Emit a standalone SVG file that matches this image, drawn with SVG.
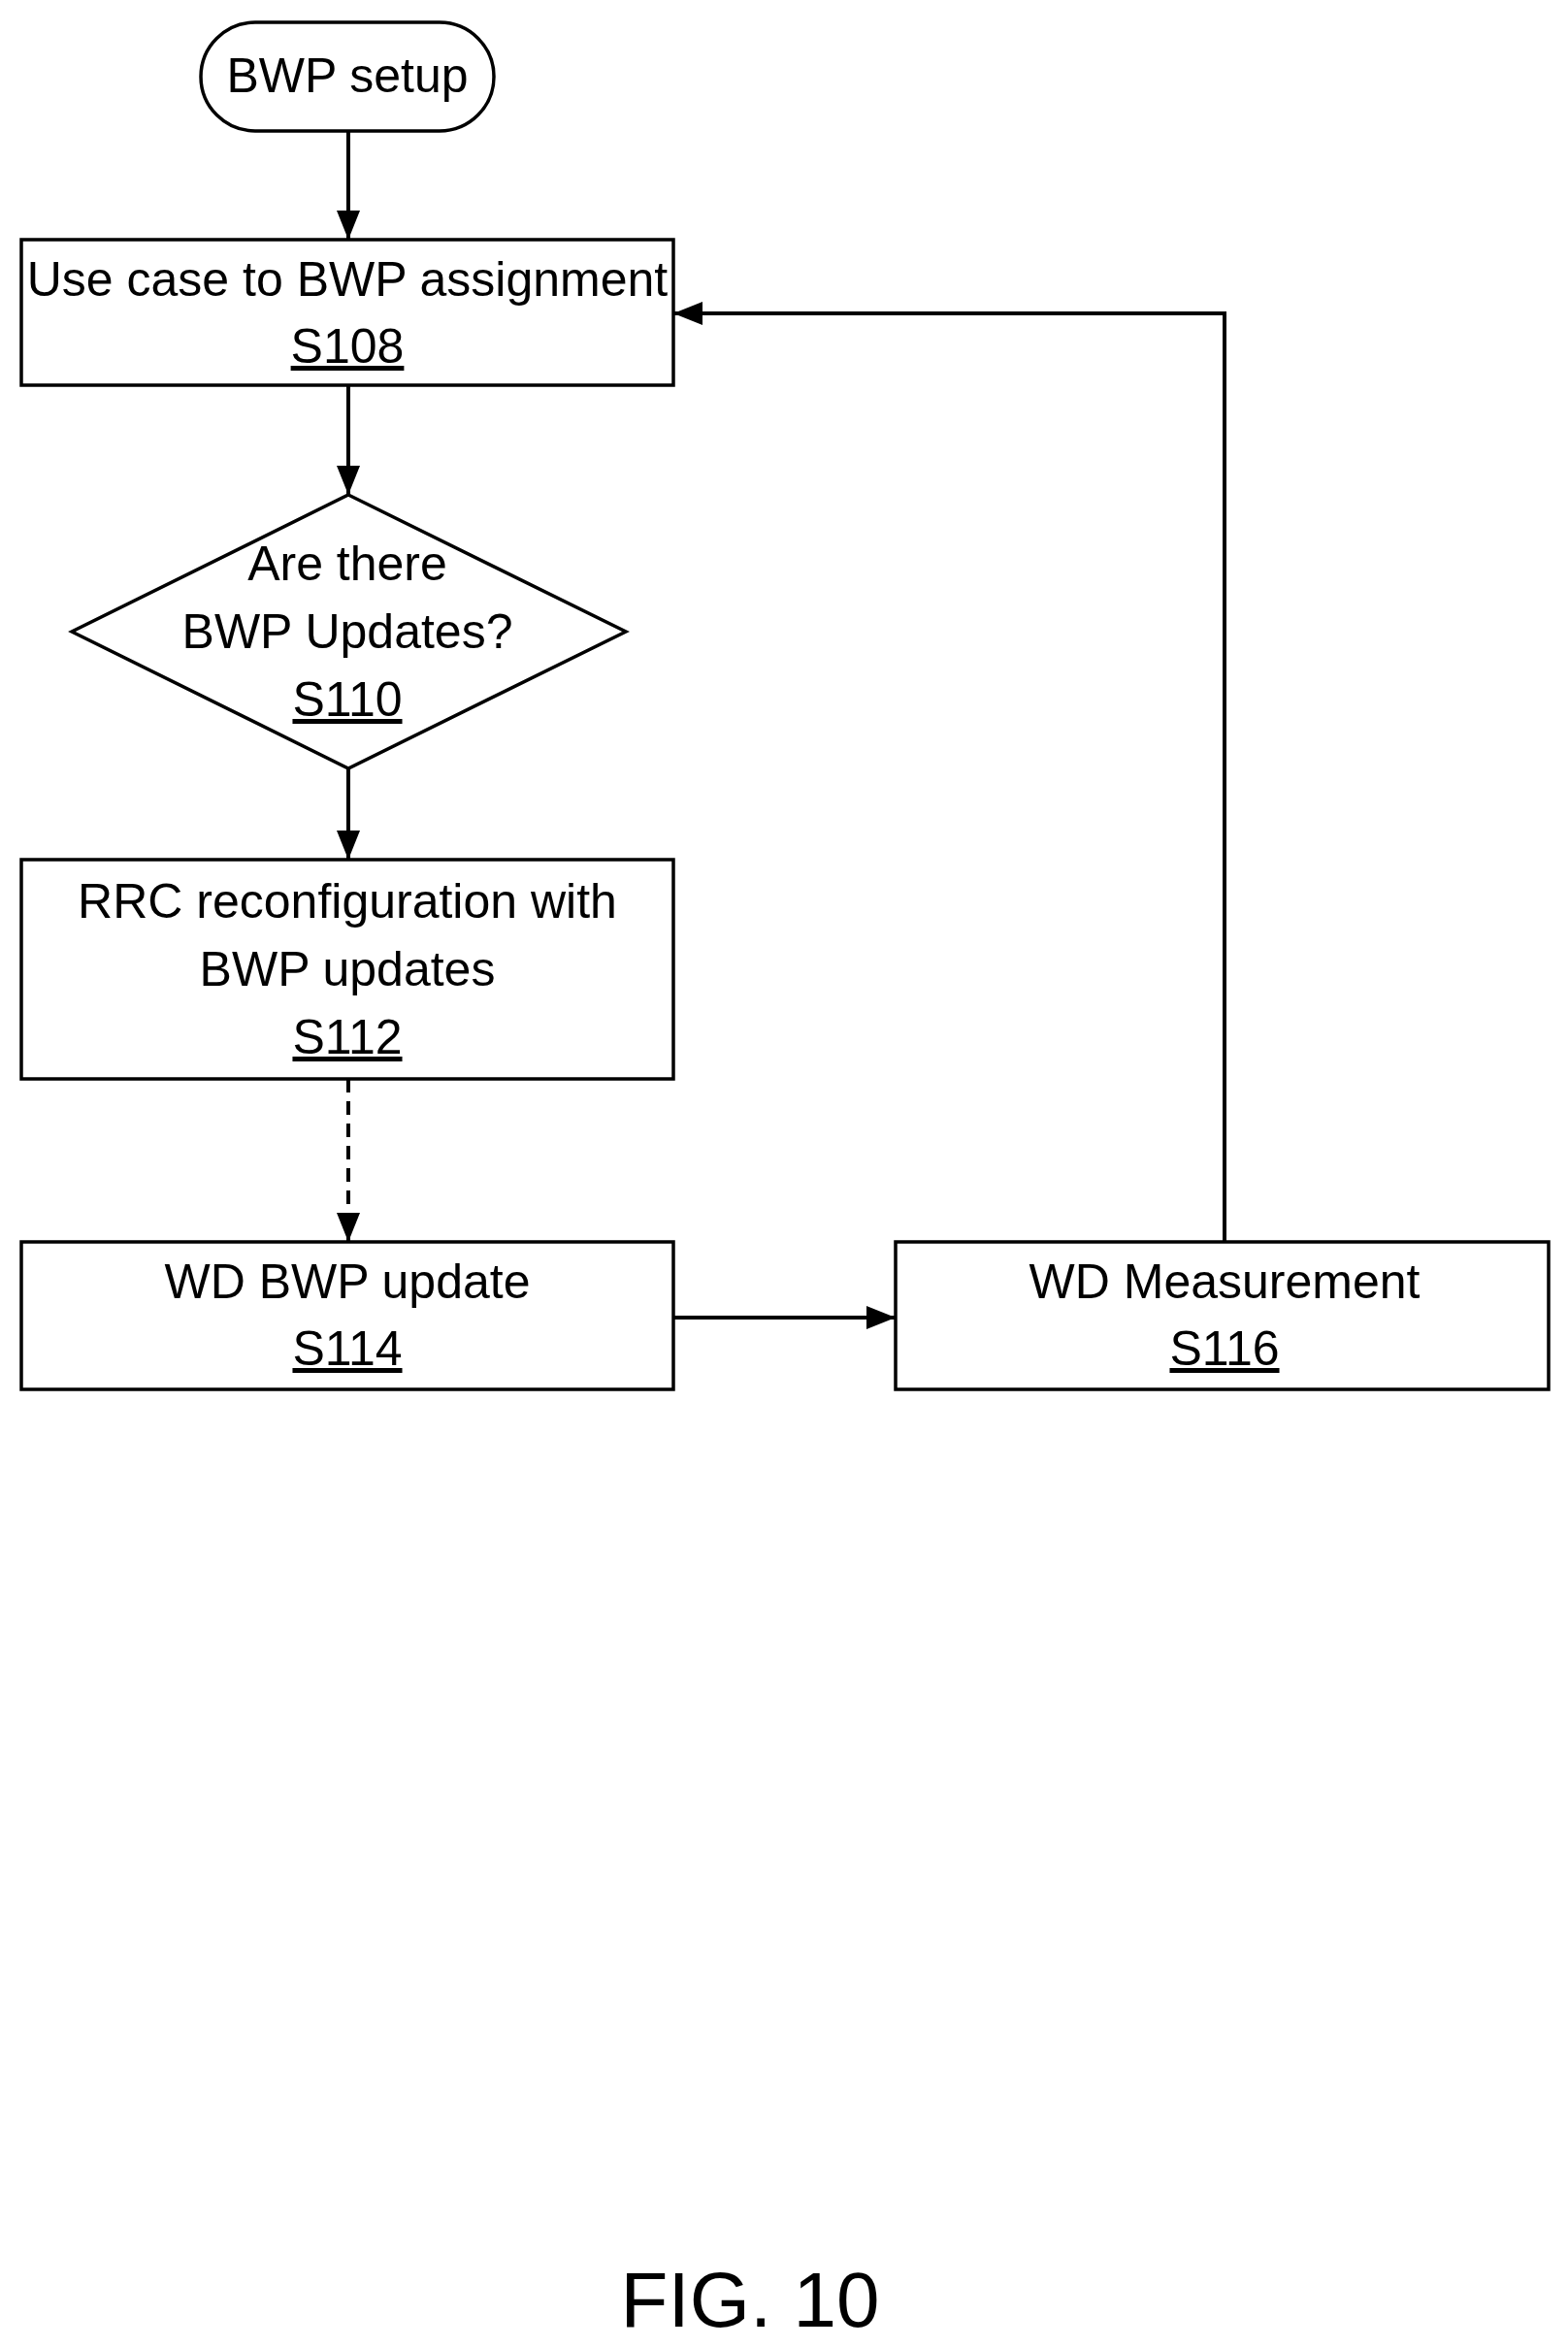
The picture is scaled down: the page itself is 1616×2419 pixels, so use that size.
<svg xmlns="http://www.w3.org/2000/svg" width="1616" height="2419" viewBox="0 0 1616 2419">
<style>
.s{fill:#fff;stroke:#000;stroke-width:3.5}
.t{font-family:"Liberation Sans Narrow","Liberation Sans",sans-serif;font-size:50px;text-anchor:middle;fill:#000}
.u{text-decoration:underline}
.c{fill:none;stroke:#000;stroke-width:4}
</style>
<defs><marker id="a" markerWidth="8" markerHeight="8" refX="7" refY="4" orient="auto" markerUnits="userSpaceOnUse" viewBox="0 0 8 8"><path d="M0,0 L8,4 L0,8 z"/></marker>
<marker id="b" viewBox="0 0 10 10" refX="10" refY="5" markerWidth="30" markerHeight="24" orient="auto" markerUnits="userSpaceOnUse" preserveAspectRatio="none"><path d="M0,0 L10,5 L0,10 z"/></marker></defs>
<rect width="1616" height="2419" fill="#fff"/>
<g id="start"><rect class="s" x="207" y="23" width="302" height="112" rx="56"/><text class="t" x="358" y="95">BWP setup</text></g>
<g id="s108"><rect class="s" x="22" y="247" width="672" height="150"/><text class="t" x="358" y="305">Use case to BWP assignment</text><text class="t u" x="358" y="374">S108</text></g>
<g id="s110"><polygon class="s" points="359,510 645,651 359,792 74,651"/><text class="t" x="358" y="598">Are there</text><text class="t" x="358" y="668">BWP Updates?</text><text class="t u" x="358" y="738">S110</text></g>
<g id="s112"><rect class="s" x="22" y="886" width="672" height="226"/><text class="t" x="358" y="946">RRC reconfiguration with</text><text class="t" x="358" y="1016">BWP updates</text><text class="t u" x="358" y="1086">S112</text></g>
<g id="s114"><rect class="s" x="22" y="1280" width="672" height="152"/><text class="t" x="358" y="1338">WD BWP update</text><text class="t u" x="358" y="1407">S114</text></g>
<g id="s116"><rect class="s" x="923" y="1280" width="673" height="152"/><text class="t" x="1262" y="1338">WD Measurement</text><text class="t u" x="1262" y="1407">S116</text></g>
<g id="connectors">
<line class="c" x1="359" y1="135" x2="359" y2="247" marker-end="url(#b)"/>
<line class="c" x1="359" y1="397" x2="359" y2="510" marker-end="url(#b)"/>
<line class="c" x1="359" y1="792" x2="359" y2="886" marker-end="url(#b)"/>
<line class="c" x1="359" y1="1112" x2="359" y2="1280" stroke-dasharray="14,9" marker-end="url(#b)"/>
<line class="c" x1="694" y1="1358" x2="923" y2="1358" marker-end="url(#b)"/>
<polyline class="c" points="1262,1280 1262,323 694,323" marker-end="url(#b)"/>
</g>
<text x="773" y="2398" font-family="Liberation Sans,sans-serif" font-size="80" text-anchor="middle">FIG. 10</text>
</svg>
